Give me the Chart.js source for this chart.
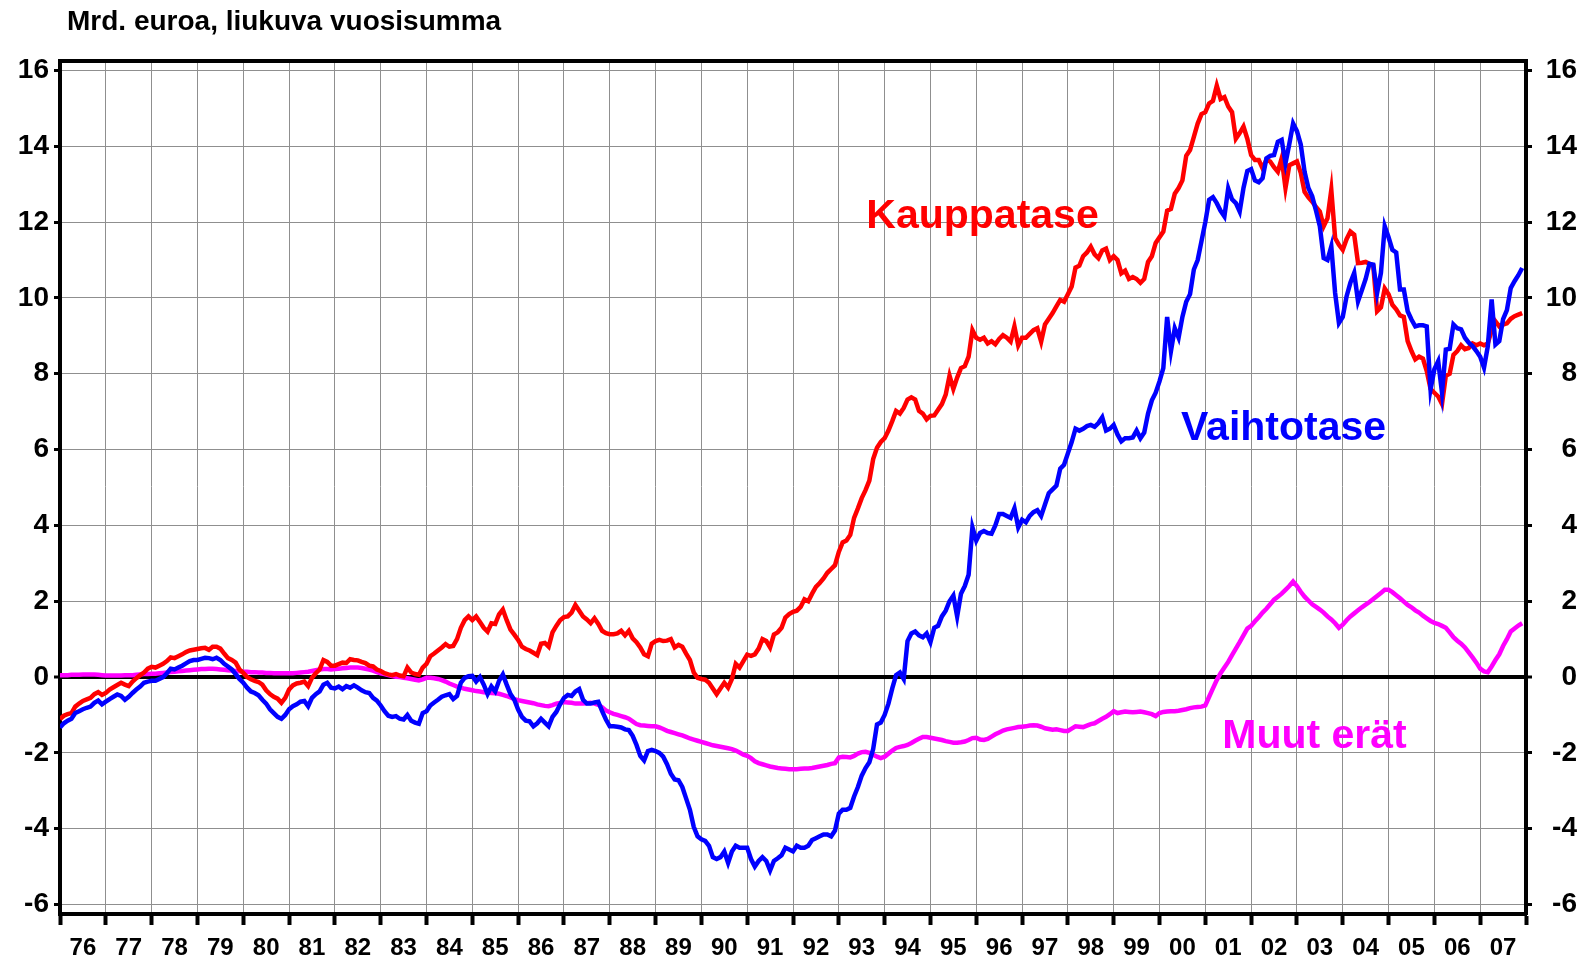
<!DOCTYPE html>
<html>
<head>
<meta charset="utf-8">
<title>Kauppatase ja vaihtotase</title>
<script src="https://cdn.jsdelivr.net/npm/chart.js@4.4.1/dist/chart.umd.min.js"></script>
<style>
  html, body { margin: 0; padding: 0; background: #fff; }
  #wrap { width: 1588px; height: 961px; }
</style>
</head>
<body>
<div id="wrap"><canvas id="kuvio" width="1588" height="961"></canvas></div>
<script>
// Kuukausisarjat, tammikuu 1976 - joulukuu 2007 (mrd. euroa, liukuva vuosisumma)
const alkuVuosi = 1976;

const kauppatase = [
  -1.11, -1.02, -0.98, -0.95, -0.78, -0.7, -0.63, -0.59, -0.55, -0.45, -0.4, -0.47,
  -0.42, -0.33, -0.27, -0.21, -0.15, -0.2, -0.24, -0.12, -0.03, 0.05, 0.12, 0.22,
  0.27, 0.25, 0.3, 0.35, 0.42, 0.52, 0.5, 0.55, 0.6, 0.66, 0.7, 0.72,
  0.74, 0.76, 0.77, 0.72, 0.8, 0.8, 0.75, 0.62, 0.5, 0.45, 0.38, 0.2,
  0.11, 0.0, -0.06, -0.1, -0.13, -0.2, -0.35, -0.45, -0.52, -0.57, -0.68, -0.55,
  -0.33, -0.22, -0.17, -0.15, -0.12, -0.24, -0.02, 0.1, 0.2, 0.45, 0.4, 0.3,
  0.3, 0.34, 0.38, 0.37, 0.47, 0.45, 0.44, 0.4, 0.37, 0.3, 0.28, 0.2,
  0.16, 0.1, 0.07, 0.05, 0.08, 0.04, 0.02, 0.25, 0.12, 0.08, 0.06, 0.25,
  0.35, 0.55, 0.62, 0.7, 0.78, 0.87, 0.8, 0.82, 1.0, 1.3, 1.5, 1.6,
  1.5, 1.6, 1.45, 1.3, 1.2, 1.42, 1.4, 1.65, 1.78, 1.5, 1.25, 1.12,
  0.98, 0.8, 0.74, 0.7, 0.64, 0.58, 0.88, 0.9, 0.8, 1.18, 1.35, 1.5,
  1.58, 1.6, 1.7, 1.9, 1.75, 1.6, 1.52, 1.42, 1.55, 1.4, 1.22, 1.16,
  1.13, 1.13, 1.15, 1.22, 1.1, 1.22, 1.02, 0.92, 0.78, 0.6, 0.55, 0.88,
  0.95, 0.98, 0.95, 0.96, 1.0, 0.78, 0.85, 0.8, 0.62, 0.45, 0.12, -0.02,
  -0.05, -0.07, -0.15, -0.3, -0.45, -0.3, -0.15, -0.28, -0.05, 0.35, 0.25, 0.42,
  0.59, 0.56, 0.6, 0.75, 1.0, 0.95, 0.78, 1.12, 1.18, 1.3, 1.57, 1.66,
  1.72, 1.75, 1.85, 2.05, 2.0, 2.2, 2.38, 2.48, 2.6, 2.75, 2.85, 2.95,
  3.3, 3.55, 3.6, 3.75, 4.2, 4.45, 4.72, 4.93, 5.18, 5.75, 6.05, 6.2,
  6.3, 6.5, 6.75, 7.02, 6.95, 7.1, 7.32, 7.38, 7.32, 7.02, 6.95, 6.8,
  6.89, 6.9, 7.05, 7.2, 7.45, 7.95, 7.6, 7.9, 8.15, 8.2, 8.45, 9.15,
  8.95, 8.9, 8.95, 8.8, 8.86, 8.78, 8.92, 9.02, 8.95, 8.85, 9.25, 8.75,
  8.95, 8.95, 9.05, 9.15, 9.2, 8.85, 9.3, 9.45, 9.6, 9.78, 9.95, 9.9,
  10.1, 10.3, 10.8, 10.85, 11.1, 11.2, 11.35, 11.15, 11.05, 11.25, 11.3, 11.0,
  11.1, 11.0, 10.65, 10.72, 10.5, 10.55, 10.5, 10.4, 10.5, 10.95, 11.1, 11.45,
  11.6, 11.75, 12.3, 12.35, 12.75, 12.9, 13.1, 13.75, 13.9, 14.25, 14.6, 14.85,
  14.9, 15.13, 15.2, 15.6, 15.25, 15.3, 15.05, 14.9, 14.2, 14.35, 14.52, 14.2,
  13.77, 13.64, 13.64, 13.42, 13.64, 13.6, 13.45, 13.33, 13.68, 12.9, 13.5, 13.55,
  13.6, 13.3, 12.8, 12.65, 12.54, 12.4, 12.28, 11.89, 12.1, 12.85, 11.58, 11.4,
  11.27, 11.55, 11.75, 11.67, 10.92, 10.93, 10.95, 10.9, 10.85, 9.65, 9.75, 10.25,
  10.1, 9.82, 9.7, 9.54, 9.5, 8.86, 8.6, 8.38, 8.45, 8.4, 8.07, 7.6,
  7.5, 7.4, 7.2, 7.95, 8.0, 8.5, 8.6, 8.75, 8.65, 8.68, 8.8, 8.75,
  8.8, 8.75, 8.8, 9.15, 9.38, 9.25, 9.3, 9.33, 9.45, 9.52, 9.56, 9.6
];

const vaihtotase = [
  -1.33, -1.22, -1.15, -1.1, -0.95, -0.9, -0.85, -0.81, -0.78, -0.68, -0.62, -0.72,
  -0.65, -0.58, -0.52, -0.46, -0.5, -0.6, -0.52, -0.42, -0.33, -0.25, -0.15, -0.12,
  -0.1, -0.1, -0.05, 0.0, 0.1, 0.22, 0.2, 0.25, 0.3, 0.36, 0.42, 0.45,
  0.45, 0.48, 0.51, 0.5, 0.47, 0.51, 0.45, 0.35, 0.28, 0.2, 0.08, -0.05,
  -0.15, -0.28, -0.38, -0.42, -0.48, -0.6, -0.7, -0.85, -0.95, -1.05, -1.1, -1.0,
  -0.85, -0.77, -0.72, -0.65, -0.63, -0.77, -0.55, -0.45, -0.38, -0.2, -0.15, -0.28,
  -0.3, -0.25, -0.32, -0.24, -0.28, -0.22, -0.28, -0.35, -0.4, -0.42, -0.55, -0.62,
  -0.75, -0.9, -1.02, -1.05, -1.03, -1.1, -1.12, -1.0, -1.15, -1.2, -1.23, -0.95,
  -0.9, -0.75, -0.67, -0.6, -0.52, -0.48, -0.45, -0.58, -0.5, -0.15, -0.02, 0.02,
  0.03, -0.12, 0.0, -0.2, -0.45, -0.25, -0.38, -0.1, 0.07, -0.2, -0.45, -0.6,
  -0.86, -1.05, -1.15, -1.17, -1.3, -1.22, -1.1, -1.2, -1.3, -1.05, -0.92, -0.72,
  -0.55, -0.47, -0.5, -0.38, -0.32, -0.6, -0.7, -0.7, -0.67, -0.65, -0.9, -1.12,
  -1.3, -1.3, -1.31, -1.33, -1.38, -1.4, -1.55, -1.79, -2.08, -2.2, -1.95, -1.92,
  -1.95, -2.0, -2.1, -2.3, -2.55, -2.7, -2.72, -2.9, -3.2, -3.5, -3.95, -4.2,
  -4.28, -4.32, -4.45, -4.75, -4.8, -4.75, -4.6, -4.9, -4.6, -4.45, -4.5, -4.5,
  -4.5, -4.8, -5.0, -4.85, -4.75, -4.85, -5.1, -4.85, -4.78, -4.7, -4.5, -4.55,
  -4.6, -4.45, -4.5, -4.5, -4.45, -4.3, -4.25, -4.2, -4.15, -4.15, -4.2, -4.05,
  -3.6, -3.5, -3.5, -3.45, -3.15, -2.9, -2.6, -2.4, -2.25, -1.9, -1.25, -1.2,
  -1.0, -0.7, -0.3, 0.05, 0.12, -0.05, 0.95, 1.15, 1.2, 1.1, 1.05, 1.15,
  0.92, 1.3, 1.35, 1.6, 1.75, 2.0, 2.15, 1.6, 2.2, 2.4, 2.7, 3.95,
  3.6, 3.8, 3.85, 3.8, 3.78, 4.0, 4.3, 4.3, 4.25, 4.2, 4.45, 3.95,
  4.15, 4.08, 4.25, 4.35, 4.4, 4.25, 4.55, 4.85, 4.95, 5.05, 5.5, 5.6,
  5.9, 6.2, 6.55, 6.5, 6.55, 6.62, 6.65, 6.6, 6.7, 6.85, 6.5, 6.55,
  6.65, 6.4, 6.22, 6.3, 6.3, 6.32, 6.5, 6.3, 6.45, 6.95, 7.3, 7.5,
  7.8, 8.15, 9.5, 8.6, 9.2, 8.95, 9.5, 9.9, 10.1, 10.75, 11.0, 11.5,
  12.0, 12.59, 12.66, 12.5, 12.3, 12.15, 12.89, 12.6, 12.5, 12.28, 12.9, 13.35,
  13.4, 13.1, 13.05, 13.16, 13.68, 13.75, 13.77, 14.12, 14.17, 13.55, 14.06, 14.6,
  14.4, 14.05, 13.33, 12.9, 12.68, 12.3, 11.89, 11.05, 11.0, 11.36, 10.13, 9.34,
  9.5, 10.04, 10.4, 10.66, 9.91, 10.2, 10.5, 10.9, 10.88, 10.13, 10.66, 11.89,
  11.6, 11.27, 11.2, 10.22, 10.22, 9.65, 9.43, 9.25, 9.28, 9.28, 9.25, 7.59,
  8.12, 8.33, 7.5, 8.64, 8.66, 9.3, 9.2, 9.17, 8.95, 8.82, 8.73, 8.6,
  8.45, 8.16, 8.73, 9.96, 8.77, 8.86, 9.44, 9.68, 10.26, 10.44, 10.6, 10.79
];

const muutErat = [
  0.05, 0.05, 0.05, 0.06, 0.06, 0.06, 0.07, 0.07, 0.07, 0.07, 0.06, 0.05,
  0.04, 0.04, 0.04, 0.04, 0.04, 0.05, 0.05, 0.05, 0.06, 0.07, 0.08, 0.08,
  0.09, 0.09, 0.1, 0.11, 0.12, 0.13, 0.14, 0.15, 0.16, 0.17, 0.18, 0.19,
  0.2, 0.21, 0.21, 0.22, 0.22, 0.21, 0.2, 0.19, 0.18, 0.17, 0.16, 0.15,
  0.14, 0.14, 0.13, 0.13, 0.12, 0.12, 0.11, 0.11, 0.1, 0.1, 0.1, 0.1,
  0.1, 0.1, 0.11, 0.12, 0.13, 0.14, 0.16, 0.18, 0.2, 0.21, 0.21, 0.2,
  0.21, 0.22, 0.23, 0.24, 0.25, 0.25, 0.25, 0.24, 0.22, 0.2, 0.17, 0.13,
  0.1, 0.08, 0.05, 0.03, 0.01, 0.0, -0.02, -0.03, -0.05, -0.07, -0.09, -0.06,
  -0.02, -0.02, -0.03, -0.05, -0.08, -0.12, -0.17, -0.21, -0.25, -0.28, -0.31, -0.33,
  -0.35, -0.37, -0.38, -0.4, -0.41, -0.42, -0.43, -0.44, -0.47, -0.5, -0.54, -0.58,
  -0.61, -0.63, -0.65, -0.67, -0.69, -0.72, -0.74, -0.76, -0.77, -0.74, -0.7, -0.68,
  -0.66, -0.67, -0.68, -0.7, -0.7, -0.7, -0.69, -0.68, -0.7, -0.73, -0.8, -0.88,
  -0.93, -0.97, -1.0, -1.03, -1.06, -1.1, -1.17, -1.24, -1.27, -1.28, -1.29, -1.3,
  -1.3, -1.33, -1.37, -1.42, -1.45, -1.48, -1.51, -1.54, -1.58, -1.62, -1.65, -1.68,
  -1.71, -1.74, -1.77, -1.8, -1.82, -1.84, -1.86, -1.88, -1.9, -1.94, -1.99, -2.05,
  -2.08, -2.14, -2.22, -2.27, -2.3, -2.33, -2.36, -2.38, -2.4, -2.41, -2.42, -2.43,
  -2.43, -2.43, -2.42, -2.41, -2.41, -2.4, -2.38, -2.36, -2.34, -2.32, -2.29, -2.27,
  -2.12, -2.1, -2.11, -2.12, -2.08, -2.02, -1.98, -1.97, -2.0, -2.05, -2.1, -2.14,
  -2.1, -2.02, -1.94, -1.87, -1.84, -1.82, -1.79, -1.74, -1.68, -1.63, -1.58, -1.58,
  -1.6, -1.62, -1.64, -1.66, -1.69, -1.71, -1.73, -1.73, -1.72, -1.7, -1.66, -1.61,
  -1.6, -1.65, -1.66, -1.63, -1.57, -1.51, -1.46, -1.41, -1.38, -1.36, -1.34, -1.32,
  -1.31, -1.3, -1.28, -1.27, -1.28, -1.31, -1.35, -1.37, -1.39, -1.38, -1.4, -1.42,
  -1.42, -1.36, -1.3, -1.31, -1.32, -1.28, -1.24, -1.22, -1.16, -1.1, -1.05, -0.98,
  -0.9, -0.95, -0.93, -0.91, -0.92, -0.93, -0.92, -0.91, -0.93, -0.95, -0.98, -1.03,
  -0.95, -0.92, -0.91, -0.9, -0.9, -0.89, -0.87, -0.85, -0.82, -0.8, -0.79, -0.78,
  -0.75, -0.52, -0.3, -0.08, 0.1, 0.25, 0.4, 0.58, 0.75, 0.92, 1.1, 1.28,
  1.35, 1.47, 1.58, 1.7, 1.8, 1.92, 2.04, 2.12, 2.2, 2.3, 2.4, 2.52,
  2.4, 2.25, 2.12, 2.02, 1.92, 1.85, 1.78, 1.7, 1.6, 1.52, 1.42, 1.3,
  1.38, 1.5, 1.6, 1.68, 1.76, 1.84, 1.91, 1.98, 2.06, 2.14, 2.22, 2.3,
  2.3, 2.24, 2.16, 2.08, 1.99, 1.9, 1.84, 1.76, 1.7, 1.62, 1.55, 1.48,
  1.43, 1.4, 1.35, 1.3, 1.18, 1.05, 0.96, 0.88, 0.78, 0.65, 0.52, 0.38,
  0.22, 0.15, 0.13, 0.28, 0.45, 0.6, 0.82, 1.0, 1.2, 1.28, 1.36, 1.42
];

// Akselien jaotukset
const vuosiLabels = ['76', '77', '78', '79', '80', '81', '82', '83', '84', '85', '86',
  '87', '88', '89', '90', '91', '92', '93', '94', '95', '96', '97', '98', '99',
  '00', '01', '02', '03', '04', '05', '06', '07'];
const yTicks = [-6, -4, -2, 0, 2, 4, 6, 8, 10, 12, 14, 16];

const FONT = '"Liberation Sans", Arial, Helvetica, sans-serif';
const GRID = '#8f8f8f';

// Kuukausiarvot pisteiksi: x = vuosi + kuukausi/12
function pisteet(arvot) {
  return arvot.map((v, i) => ({ x: alkuVuosi + i / 12, y: v }));
}

// Vuosirajat pystyviivoille (1976 ... 2008)
const vuosiRajat = vuosiLabels.map((_, i) => alkuVuosi + i).concat(alkuVuosi + vuosiLabels.length);

// Otsikko ja sarjojen nimet suoraan kuvaan
const tekstit = {
  id: 'tekstit',
  afterDraw(chart, args, opts) {
    const { ctx, scales: { x, y } } = chart;
    ctx.save();
    ctx.textBaseline = 'alphabetic';
    ctx.textAlign = 'left';
    ctx.fillStyle = '#000';
    ctx.font = 'bold 28px ' + FONT;
    ctx.fillText(opts.otsikko, 67, 30);
    ctx.font = 'bold 41px ' + FONT;
    opts.nimet.forEach(n => {
      ctx.fillStyle = n.vari;
      ctx.fillText(n.teksti, x.getPixelForValue(n.x), y.getPixelForValue(n.y));
    });
    ctx.restore();
  }
};

const yAkseli = (pos) => ({
  type: 'linear',
  position: pos,
  min: -6.25,
  max: 16.25,
  afterBuildTicks: s => { s.ticks = yTicks.map(v => ({ value: v })); },
  afterFit: s => { s.width = pos === 'left' ? 60 : 51; },
  border: { color: '#000', width: 4 },
  grid: {
    drawOnChartArea: pos === 'left',
    color: c => (c.tick && c.tick.value === 0 ? '#000' : GRID),
    lineWidth: c => (c.tick && c.tick.value === 0 ? 4 : 1),
    tickLength: 6,
    tickColor: '#000',
    tickWidth: 3
  },
  ticks: {
    color: '#000',
    font: { family: FONT, size: 28, weight: 'bold' },
    padding: 5,
    crossAlign: pos === 'left' ? 'near' : 'far'
  }
});

new Chart(document.getElementById('kuvio'), {
  type: 'line',
  data: {
    datasets: [
      { label: 'Vaihtotase', data: pisteet(vaihtotase), borderColor: '#0000ff' },
      { label: 'Kauppatase', data: pisteet(kauppatase), borderColor: '#ff0000' },
      { label: 'Muut erät', data: pisteet(muutErat), borderColor: '#ff00ff' }
    ]
  },
  options: {
    responsive: false,
    animation: false,
    layout: { padding: { top: 61, right: 11, left: 0, bottom: 0 } },
    elements: {
      line: { borderWidth: 4.5, tension: 0, fill: false },
      point: { radius: 0 }
    },
    plugins: {
      legend: { display: false },
      tooltip: { enabled: false },
      tekstit: {
        otsikko: 'Mrd. euroa, liukuva vuosisumma',
        nimet: [
          { teksti: 'Kauppatase', vari: '#ff0000', x: 1993.6, y: 11.85 },
          { teksti: 'Vaihtotase', vari: '#0000ff', x: 2000.47, y: 6.25 },
          { teksti: 'Muut erät', vari: '#ff00ff', x: 2001.37, y: -1.88 }
        ]
      }
    },
    scales: {
      x: {
        type: 'linear',
        position: 'bottom',
        min: alkuVuosi,
        max: alkuVuosi + vuosiLabels.length,
        afterBuildTicks: s => { s.ticks = vuosiRajat.map(v => ({ value: v })); },
        afterFit: s => { s.height = 47; },
        border: { color: '#000', width: 4 },
        grid: { color: GRID, lineWidth: 1, tickLength: 11, tickColor: '#000', tickWidth: 4 },
        ticks: {
          color: '#000',
          font: { family: FONT, size: 24, weight: 'bold' },
          padding: 9,
          autoSkip: false,
          maxRotation: 0,
          minRotation: 0,
          labelOffset: 22.9,
          callback: (v, i) => vuosiLabels[i] || ''
        }
      },
      xYla: {
        type: 'linear',
        position: 'top',
        min: alkuVuosi,
        max: alkuVuosi + vuosiLabels.length,
        afterFit: s => { s.height = 0; },
        border: { color: '#000', width: 4 },
        grid: { display: false, drawTicks: false },
        ticks: { display: false }
      },
      y: yAkseli('left'),
      y2: yAkseli('right')
    }
  },
  plugins: [tekstit]
});
</script>
</body>
</html>
